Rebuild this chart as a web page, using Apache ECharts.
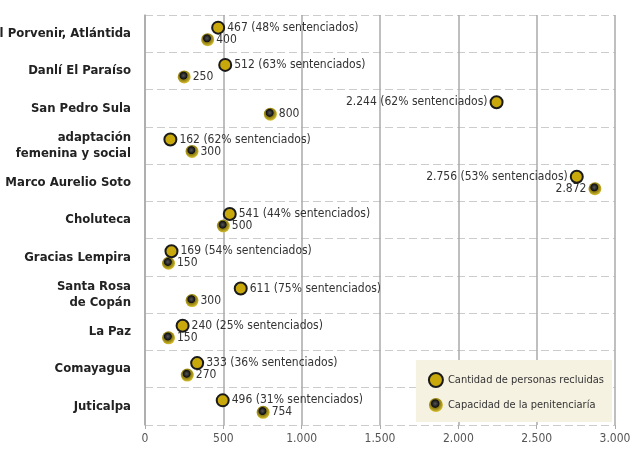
<!DOCTYPE html>
<html><head><meta charset="utf-8">
<script src="https://cdn.jsdelivr.net/npm/echarts@6/dist/echarts.min.js"></script>
<style>html,body{margin:0;padding:0;background:#fff}#c{width:640px;height:464px}</style>
</head><body><div id="c"></div>
<script>
var categories = ['El Porvenir, Atlántida', 'Danlí El Paraíso', 'San Pedro Sula', 'adaptación\nfemenina y social', 'Marco Aurelio Soto', 'Choluteca', 'Gracias Lempira', 'Santa Rosa\nde Copán', 'La Paz', 'Comayagua', 'Juticalpa'];
var inmates = [467, 512, 2244, 162, 2756, 541, 169, 611, 240, 333, 496];
var sentenced = [48, 63, 62, 62, 53, 44, 54, 75, 25, 36, 31];
var capacity = [400, 250, 800, 300, 2872, 500, 150, 300, 150, 270, 754];

function fmt(v) {
	return String(v).replace(/\B(?=(\d{3})+(?!\d))/g, '.');
}

var gold = '#c9a80c';
var capSymbol = {
	type: 'radial', x: 0.45, y: 0.4, r: 0.6,
	colorStops: [{offset: 0, color: '#555'}, {offset: 0.45, color: '#111'}, {offset: 0.55, color: '#8a7a10'}, {offset: 1, color: '#d8c030'}]
};
var labelFont = 'DejaVu Sans Condensed';

var chart = echarts.init(document.getElementById('c'));
chart.setOption({
	animation: false,
	grid: {left: 145, right: 25, top: 15, bottom: 39, containLabel: false, outerBoundsMode: 'none'},
	legend: {
		orient: 'vertical', right: 28, bottom: 42,
		backgroundColor: '#f6f2e2', padding: [12, 8, 10, 12], itemGap: 10,
		itemWidth: 14, itemHeight: 14,
		textStyle: {fontFamily: labelFont, fontSize: 11, color: '#333'},
		data: ['Cantidad de personas recluidas', 'Capacidad de la penitenciaría']
	},
	xAxis: {
		type: 'value', min: 0, max: 3000, interval: 500,
		axisLine: {show: false}, axisTick: {show: true, length: 4, lineStyle: {color: '#aaa'}},
		splitLine: {lineStyle: {color: '#aaa', width: 1.5}},
		axisLabel: {fontFamily: labelFont, fontSize: 12, color: '#555', formatter: fmt}
	},
	yAxis: {
		type: 'category', inverse: true, data: categories,
		axisLine: {lineStyle: {color: '#aaa', width: 1.5}}, axisTick: {show: false},
		splitLine: {show: true, interval: 0, lineStyle: {color: '#ccc', type: [8, 4]}},
		axisLabel: {fontFamily: labelFont, fontWeight: 'bold', fontSize: 13, color: '#222', lineHeight: 16, margin: 14}
	},
	series: [
		{
			name: 'Cantidad de personas recluidas', type: 'scatter', symbolSize: 12, symbolOffset: [0, -6], z: 3,
			itemStyle: {color: gold, borderColor: '#1a1a1a', borderWidth: 2, opacity: 1},
			data: inmates.map(function (v, i) {
				return {value: [v, i], label: {position: (v > 2000) ? 'left' : 'right'}};
			}),
			label: {
				show: true, distance: 2, fontFamily: labelFont, fontSize: 12, color: '#333',
				formatter: function (p) { return fmt(inmates[p.dataIndex]) + ' (' + sentenced[p.dataIndex] + '% sentenciados)'; }
			}
		},
		{
			name: 'Capacidad de la penitenciaría', type: 'scatter', symbolSize: 13, symbolOffset: [0, 6], z: 2,
			itemStyle: {color: capSymbol, opacity: 1},
			data: capacity.map(function (v, i) {
				return {value: [v, i], label: {position: (v > 2000) ? 'left' : 'right'}};
			}),
			label: {
				show: true, distance: 2, fontFamily: labelFont, fontSize: 12, color: '#333',
				formatter: function (p) { return fmt(capacity[p.dataIndex]); }
			}
		}
	]
});
</script></body></html>
